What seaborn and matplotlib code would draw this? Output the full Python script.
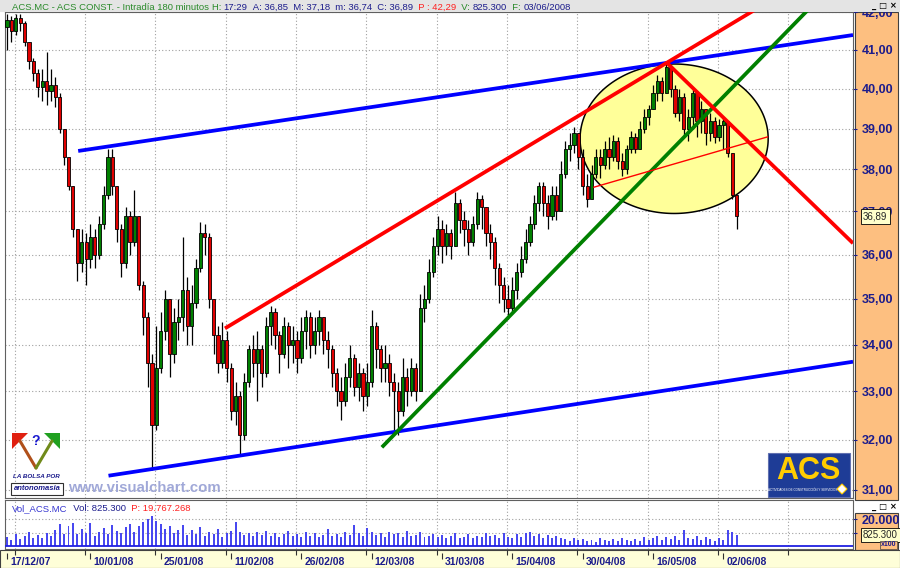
import numpy as np
import pandas as pd
import matplotlib
matplotlib.use("Agg")
import matplotlib.pyplot as plt
import seaborn as sns
from matplotlib.patches import Rectangle, Polygon
from matplotlib.lines import Line2D
from matplotlib.ticker import FixedLocator, FuncFormatter, NullLocator

# --- DATA (one candle per ~4.4 px) ---
FIRST_OPEN = 41.6
CLOSES = [
    41.8, 41.5, 41.85, 41.7, 41.2, 40.7, 40.4, 40.05, 40.2, 39.95,
    40.1, 39.8, 39.0, 38.3, 37.6, 36.6, 35.8, 36.3, 35.9, 36.4,
    36.0, 36.7, 37.4, 38.3, 37.6, 36.6, 35.8, 36.9, 36.3, 36.9,
    35.3, 34.6, 33.6, 32.3, 33.5, 34.3, 35.0, 33.8, 34.5, 34.6,
    35.2, 34.4, 34.9, 35.7, 36.5, 36.4, 35.0, 34.2, 33.6, 34.1,
    33.5, 32.6, 32.9, 32.1, 33.2, 33.9, 33.6, 33.9, 33.4, 34.4,
    34.7, 34.2, 33.8, 34.4, 34.0, 34.1, 33.7, 34.3, 34.6, 34.0,
    34.3, 34.6, 34.1, 33.9, 33.4, 33.0, 32.8, 33.3, 33.7, 33.1,
    33.4, 32.9, 33.2, 34.4, 33.9, 33.5, 33.6, 33.2, 33.0, 32.6,
    33.3, 33.0, 33.5, 33.0, 34.8, 35.0, 35.6, 36.2, 36.6, 36.2,
    36.5, 36.2, 37.2, 36.8, 36.6, 36.3, 36.7, 37.3, 37.1, 36.5,
    36.3, 35.7, 35.3, 35.0, 34.8, 35.2, 35.6, 35.9, 36.3, 36.7,
    37.2, 37.6, 37.2, 36.9, 37.4, 37.0, 37.9, 38.5, 38.6, 38.9,
    38.3, 37.6, 37.3, 37.9, 38.3, 38.1, 38.5, 38.3, 38.7, 38.2,
    38.0, 38.5, 38.8, 38.5, 39.0, 39.3, 39.5, 39.9, 40.2, 39.9,
    40.55, 40.0, 39.4, 39.8, 39.0, 39.3, 39.9, 39.2, 39.5, 38.9,
    39.2, 38.8, 39.1, 39.2, 38.4, 37.4, 36.89,
]
HIGHS = [
    41.95, 41.9, 41.95, 41.95, 41.75, 41.2, 40.8, 40.5, 40.5, 40.95,
    40.5, 40.3, 39.9, 39.0, 38.2, 37.6, 36.6, 36.6, 36.5, 36.7,
    36.6, 36.9, 37.6, 38.5, 38.5, 37.6, 36.7, 37.1, 37.0, 37.5,
    36.8, 35.4, 34.7, 33.8, 34.4, 34.7, 35.2, 35.0, 34.8, 35.0,
    36.4, 35.5, 35.3, 35.9, 36.75, 36.7, 36.5, 35.0, 34.4, 34.5,
    34.3, 33.6, 33.2, 33.0, 33.4, 34.0, 34.2, 34.3, 34.0, 34.6,
    34.85, 34.8, 34.3, 34.6, 34.5, 34.4, 34.3, 34.6, 34.75, 34.7,
    34.6, 34.75, 34.6, 34.3, 34.0, 33.5, 33.3, 33.6, 34.0, 33.8,
    33.6, 33.5, 33.6, 34.75, 34.5, 34.0, 34.0, 33.8, 33.4, 33.2,
    33.7, 33.5, 33.7, 33.6, 35.1, 35.3, 35.9, 36.4, 36.9, 36.8,
    36.7, 36.6, 37.45, 37.3, 37.0, 36.8, 36.9, 37.45, 37.4, 37.1,
    36.7, 36.4, 35.8, 35.5, 35.3, 35.5, 35.8, 36.2, 36.6, 36.9,
    37.4, 37.7, 37.7, 37.4, 37.6, 37.6, 38.2, 38.7, 38.9, 39.05,
    38.9, 38.5, 37.9, 38.1, 38.5, 38.5, 38.7, 38.8, 38.85, 38.8,
    38.4, 38.6, 38.95, 38.9, 39.2, 39.5, 39.6, 40.1, 40.35, 40.3,
    40.66, 40.6, 40.1, 40.0, 39.9, 39.5, 40.0, 39.9, 39.7, 39.5,
    39.4, 39.3, 39.25, 39.3, 39.2, 38.4, 37.3,
]
LOWS = [
    41.0, 41.2, 41.4, 41.5, 41.1, 40.5, 40.2, 39.8, 39.7, 39.6,
    39.7, 39.55, 38.9, 38.1, 37.5, 36.4, 35.4, 35.6, 35.3, 35.7,
    35.7, 35.9, 36.6, 37.3, 37.4, 36.3, 35.5, 35.7, 36.0, 36.2,
    35.2, 34.2, 33.1, 31.4, 32.2, 33.4, 34.1, 33.3, 33.6, 34.1,
    34.3, 34.0, 34.0, 34.8, 35.6, 36.0, 34.8, 33.8, 33.4, 33.5,
    33.2, 32.4, 32.3, 31.7, 32.0, 33.1, 33.3, 32.8, 33.1, 33.3,
    34.0, 33.9, 33.4, 33.7, 33.5, 33.6, 33.4, 33.6, 33.9, 33.7,
    33.8, 34.0, 33.8, 33.5, 33.1, 32.7, 32.4, 32.7, 33.1, 32.9,
    32.8, 32.6, 32.7, 33.1, 33.5, 33.2, 33.2, 32.9, 32.2, 32.1,
    32.5, 32.7, 32.9, 32.8, 34.5, 34.5, 34.9, 35.5, 36.0, 35.8,
    36.0, 35.9, 36.2, 36.5, 36.2, 36.0, 36.2, 36.6, 36.6, 36.2,
    35.9, 35.3, 34.9, 34.7, 34.55, 34.7, 35.0, 35.5, 35.8, 36.2,
    36.6, 37.0, 36.9, 36.6, 36.8, 36.8, 37.0, 37.8, 38.2, 38.4,
    38.0, 37.4, 37.1, 37.4, 37.8, 37.8, 38.0, 38.0, 38.2, 38.0,
    37.85, 37.9, 38.4, 38.4, 38.5, 38.9, 39.1, 39.5, 39.7, 39.7,
    39.9, 39.8, 39.3, 39.2, 38.8, 38.7, 39.0, 38.8, 38.9, 38.6,
    38.7, 38.65, 38.7, 38.5, 38.3, 37.3, 36.6,
]
# volume in hundreds of shares (axis is "x100")
VOLUMES = [
    6500, 4200, 9000, 5200, 7800, 10500, 6100, 8400, 5600, 9800,
    7200, 11800, 16500, 9200, 14800, 17200, 8600, 12400, 9600, 16800,
    7800, 10200, 13600, 8800, 15800, 11200, 9400, 14200, 16400, 10800,
    15200, 17600, 19800, 22600, 18400, 16200, 12800, 14600, 9800, 12200,
    15600, 8400, 11600, 9200, 13800, 7600, 10400, 8800, 12600, 6800,
    9600, 11200, 18200, 10400, 8200, 9800, 7400, 10600, 8000, 11400,
    7200, 9400, 6800, 8600, 11200, 7200, 9000, 6400, 10800, 7800,
    9600, 6600, 8200, 12600, 7400, 9200, 6800, 10200, 8400, 15400,
    9600, 7200, 13200, 10600, 8000, 9400, 6600, 10800, 8600, 9800,
    7000, 11400, 7800, 8400, 10400, 6800, 7600, 9200, 6400, 8000,
    5800, 7400, 9600, 6200, 7000, 8800, 5600, 7800, 6600, 9400,
    7200, 8400, 6000, 9800, 7000, 5800, 8600, 6400, 9800, 10400,
    7200, 9000, 6200, 8200, 5600, 7400, 6000, 5000, 3800, 6200,
    4400, 5400, 3600, 4800, 3200, 5800, 4200, 3800, 5200, 3400,
    6000, 4600, 3800, 5400, 4000, 6400, 4800, 5600, 7200, 4400,
    6600, 5200, 7800, 4600, 12000, 6200, 5000, 7400, 4200, 6800,
    5400, 3800, 6000, 4600, 11600, 10800, 8253,
]

DATE_LABELS = ['17/12/07', '10/01/08', '25/01/08', '11/02/08', '26/02/08', '12/03/08',
               '31/03/08', '15/04/08', '30/04/08', '16/05/08', '02/06/08']
DATE_BARS = [0, 19, 35, 51, 67, 83, 99, 115, 131, 147, 163]
PRICE_TICKS = [31, 32, 33, 34, 35, 36, 37, 38, 39, 40, 41, 42]
VOLUME_TICKS = [10000, 20000]
LAST_PRICE = 36.89
LAST_VOLUME = 8253

# hand drawn trend lines: (bars, prices)
LINE_BLUE_TOP = ([16.2, 192.5], [38.45, 41.39])
LINE_BLUE_LOW = ([23.1, 192.5], [31.28, 33.63])
LINE_RED_UP = ([49.6, 170.9], [34.35, 42.11])
LINE_GREEN_UP = ([85.3, 182.7], [31.85, 42.11])
LINE_RED_DOWN = ([150.2, 192.5], [40.66, 36.26])
LINE_RED_THIN = ([133.4, 173.2], [37.57, 38.80])
ELLIPSE_CENTER = (151.8, 38.75)
ELLIPSE_HALF = (21.4, 0.0475)  # bars, log-price

# --- STYLE ---
NAVY = '#1c1c8c'
TXT_GREEN = '#2a8a2a'
ORANGE = '#fdbf80'
STRIP = '#fefed8'
GRID = '#a0a0a0'
UP_COL = '#008000'
DOWN_COL = '#e00000'
VOL_BLUE = '#4848f0'
W, H = 900, 568


def box(x0, y0, x1, y1):
    return [x0 / W, 1 - y1 / H, (x1 - x0) / W, (y1 - y0) / H]


def pt(x, y):
    return (x / W, 1 - y / H)


def chain(axis, x, y, parts, size, transform=None):
    """Writes coloured text pieces one after the other."""
    kw = dict(fontsize=size, va='bottom', ha='left')
    if transform is not None:
        kw['transform'] = transform
    t = axis.text(x, y, parts[0][0], color=parts[0][1], **kw)
    kw.pop('transform', None)
    for s, c in parts[1:]:
        t = axis.annotate(s, xy=(1, 0), xycoords=t, color=c, **kw)
    return t


df = pd.DataFrame({'close': CLOSES, 'high': HIGHS, 'low': LOWS, 'volume': VOLUMES})
df['open'] = [FIRST_OPEN] + CLOSES[:-1]
df['bar'] = np.arange(len(df))
df['high'] = df[['high', 'open', 'close']].max(axis=1)
df['low'] = df[['low', 'open', 'close']].min(axis=1)
df['up'] = df['close'] >= df['open']

sns.set_style('white')
plt.rcParams['font.family'] = ['Liberation Sans', 'DejaVu Sans']

fig = plt.figure(figsize=(9, 5.68), dpi=100)

# orange axis panels and date strip, behind everything
for (x0, y0, x1, y1), col in [((855, 12, 898, 500), ORANGE),
                              ((855, 513, 898, 550), ORANGE),
                              ((0, 550, 900, 568), STRIP)]:
    fig.add_artist(Rectangle(pt(x0, y1), (x1 - x0) / W, (y1 - y0) / H,
                             transform=fig.transFigure, fc=col, ec='#404040',
                             lw=0.8, zorder=-1))

ax = fig.add_axes(box(5, 12, 853, 498))
ax_vol = fig.add_axes(box(5, 500, 853, 549), sharex=ax)
ax_date = fig.add_axes(box(5, 550, 853, 568), sharex=ax)
ax_date.patch.set_alpha(0)

# --- price panel ---
ax.set_yscale('log')
ell_t = np.linspace(0, 2 * np.pi, 240)
ax.fill(ELLIPSE_CENTER[0] + ELLIPSE_HALF[0] * np.cos(ell_t),
        ELLIPSE_CENTER[1] * np.exp(ELLIPSE_HALF[1] * np.sin(ell_t)),
        facecolor='#ffff99', edgecolor='black', lw=1.1, zorder=1)

ax.vlines(df['bar'], df['low'], df['high'], color='black', lw=0.9, zorder=3)
body_low = df[['open', 'close']].min(axis=1)
body_h = (df['close'] - df['open']).abs().clip(lower=0.04)
ax.bar(df['bar'], body_h, bottom=body_low, width=0.72,
       color=np.where(df['up'], UP_COL, DOWN_COL),
       edgecolor='black', linewidth=0.6, zorder=3.5)

for (xs, ys), col, lw in [(LINE_BLUE_TOP, '#0000ff', 2.7),
                          (LINE_BLUE_LOW, '#0000ff', 2.7),
                          (LINE_RED_UP, '#ff0000', 2.7),
                          (LINE_GREEN_UP, '#008000', 2.7),
                          (LINE_RED_DOWN, '#ff0000', 2.7),
                          (LINE_RED_THIN, '#ff0000', 1.0)]:
    ax.plot(xs, ys, color=col, lw=lw, solid_capstyle='butt', zorder=4)

# --- volume panel ---
sns.barplot(x=df['bar'], y=df['volume'], native_scale=True, color=VOL_BLUE,
            saturation=1, width=0.45, errorbar=None, linewidth=0, ax=ax_vol)
ax_vol.axhline(0, color='#2020e0', lw=1.3, zorder=3)
ax_vol.set_xlabel('')
ax_vol.set_ylabel('')

# --- axes, grids, ticks ---
grid_bars = np.arange(1.75, 192, 16)
ax.set_xticks(grid_bars)
ax.set_xlim(-0.45, 192.5)
ax.set_ylim(30.84, 42.0)
ax.yaxis.set_major_locator(FixedLocator(PRICE_TICKS))
ax.yaxis.set_minor_locator(NullLocator())
ax.yaxis.set_major_formatter(FuncFormatter(lambda v, p: f"{v:.2f}".replace('.', ',')))
ax.yaxis.tick_right()

ax_vol.set_ylim(-2240, 34300)
ax_vol.yaxis.set_major_locator(FixedLocator(VOLUME_TICKS))
ax_vol.yaxis.set_major_formatter(
    FuncFormatter(lambda v, p: f"{int(v):,}".replace(',', '.') if v >= 20000 else ''))
ax_vol.yaxis.tick_right()

for a in (ax, ax_vol):
    a.set_axisbelow(True)
    a.grid(True, color=GRID, ls=(0, (1, 2)), lw=0.8)
    a.tick_params(axis='x', length=0, labelbottom=False)
    a.tick_params(axis='y', length=3, width=0.8, color=NAVY, labelcolor=NAVY,
                  labelsize=9, pad=3)
    for s in a.spines.values():
        s.set_color('#606060')
        s.set_linewidth(0.8)
    plt.setp(a.get_yticklabels(), fontweight='bold')

ax.annotate(f"{LAST_PRICE:.2f}".replace('.', ','), xy=(1, LAST_PRICE),
            xycoords=('axes fraction', 'data'), xytext=(10, 0),
            textcoords='offset pixels', ha='left', va='center', fontsize=7,
            bbox=dict(boxstyle='square,pad=0.25', fc='#ffffcc', ec='black', lw=0.6),
            annotation_clip=False, zorder=8)
ax_vol.annotate(f"{LAST_VOLUME * 100:,}".replace(',', '.'), xy=(1, LAST_VOLUME),
                xycoords=('axes fraction', 'data'), xytext=(10, 0),
                textcoords='offset pixels', ha='left', va='center', fontsize=7,
                bbox=dict(boxstyle='square,pad=0.2', fc='#ffffcc', ec='black', lw=0.6),
                annotation_clip=False, zorder=8)

# date strip
ax_date.set_ylim(0, 1)
ax_date.grid(False)
ax_date.tick_params(axis='both', length=0, labelbottom=False, labelleft=False)
ax_date.set_yticks([])
for s in ax_date.spines.values():
    s.set_visible(False)
ax_date.vlines(grid_bars, 0.7, 1.0, color='#303030', lw=0.8)
ax_date.vlines(DATE_BARS, 0.5, 0.86, color='#303030', lw=0.8)
for b, lab in zip(DATE_BARS, DATE_LABELS):
    ax_date.text(b + 0.7, 0.34, lab, ha='left', va='center', fontsize=7.5,
                 fontweight='bold', color=NAVY)

# --- title bar ---
ax_top = fig.add_axes(box(0, 0, 900, 12))
ax_top.set_zorder(5)
ax_top.set_facecolor('#e4e4e4')
ax_top.set_xlim(0, 900)
ax_top.set_ylim(12, 0)
ax_top.set_xticks([])
ax_top.set_yticks([])
for s in ax_top.spines.values():
    s.set_visible(False)
chain(ax_top, 12, 11.8, [
    ("ACS.MC - ACS CONST. - Intradía 180 minutos ", TXT_GREEN), ("H: ", TXT_GREEN),
    ("17:29", NAVY), ("  A: 36,85", NAVY), ("  M: 37,18", NAVY), ("  m: 36,74", NAVY),
    ("  C: 36,89", NAVY), ("  P : 42,29", '#ff2020'), ("  V: ", TXT_GREEN),
    ("825.300", NAVY), ("  F: ", TXT_GREEN), ("03/06/2008", NAVY)], 6.8)
ax_top.text(897, 6.0, '_ □ ×', ha='right', va='center', fontsize=6,
            family='DejaVu Sans', fontweight='bold', color='black')
fig.text(*pt(897, 506.5), '_ □ ×', ha='right', va='center', fontsize=6,
         family='DejaVu Sans', fontweight='bold', color='black')
fig.text(*pt(896, 545), 'x100', ha='right', va='center', fontsize=5,
         fontweight='bold', color=NAVY,
         bbox=dict(boxstyle='square,pad=0.1', fc=ORANGE, ec='#404040', lw=0.5))

# volume panel header
chain(ax_vol, (12 - 5) / 848, 0.74, [("Vol_ACS.MC", '#3535d0'), ("  Vol: 825.300", NAVY),
                                     ("  P: 19.767.268", '#ff2020')], 6.8,
      transform=ax_vol.transAxes)

# --- logos ---
fig.add_artist(Polygon([pt(12, 433), pt(28, 433), pt(12, 449)], closed=True,
                       transform=fig.transFigure, fc='#e02010', ec='none', zorder=4))
fig.add_artist(Polygon([pt(60, 433), pt(44, 433), pt(60, 449)], closed=True,
                       transform=fig.transFigure, fc='#20a020', ec='none', zorder=4))
fig.add_artist(Line2D([20 / W, 36 / W], [1 - 441 / H, 1 - 468 / H], color='#b0501a',
                      lw=2.2, transform=fig.transFigure, zorder=4))
fig.add_artist(Line2D([52 / W, 36 / W], [1 - 441 / H, 1 - 468 / H], color='#708a1a',
                      lw=2.2, transform=fig.transFigure, zorder=4))
fig.text(*pt(36, 441), '?', ha='center', va='center', fontsize=10,
         fontweight='bold', color='#1a1ad0', zorder=4)
fig.text(*pt(36, 476), 'LA BOLSA POR', ha='center', va='center', fontsize=4.5,
         fontweight='bold', style='italic', color=NAVY, zorder=4)
fig.text(*pt(37, 489), 'antonomasia', ha='center', va='center', fontsize=5.5,
         fontweight='bold', style='italic', color=NAVY, zorder=4,
         bbox=dict(boxstyle='square,pad=0.35', fc='white', ec='#303030', lw=0.8))
fig.text(*pt(68, 487.5), 'www.visualchart.com', ha='left', va='center',
         fontsize=10.8, fontweight='bold', color='#a0a8d8', zorder=4)

fig.add_artist(Rectangle(pt(768, 497), 82 / W, 44 / H, transform=fig.transFigure,
                         fc='#1e3c96', ec='#6070b0', lw=0.8, zorder=4))
fig.text(*pt(808, 471), 'ACS', ha='center', va='center', fontsize=22,
         fontweight='bold', color='#ffcc00', zorder=5)
fig.text(*pt(803, 490), 'ACTIVIDADES DE CONSTRUCCIÓN Y SERVICIOS', ha='center',
         va='center', fontsize=2.2, color='white', zorder=5)
fig.add_artist(Polygon([pt(842, 484), pt(847, 489), pt(842, 494), pt(837, 489)],
                       closed=True, transform=fig.transFigure, fc='white',
                       ec='#ffcc00', lw=0.8, zorder=5))

fig.savefig('out.png', dpi=100)
plt.close(fig)
